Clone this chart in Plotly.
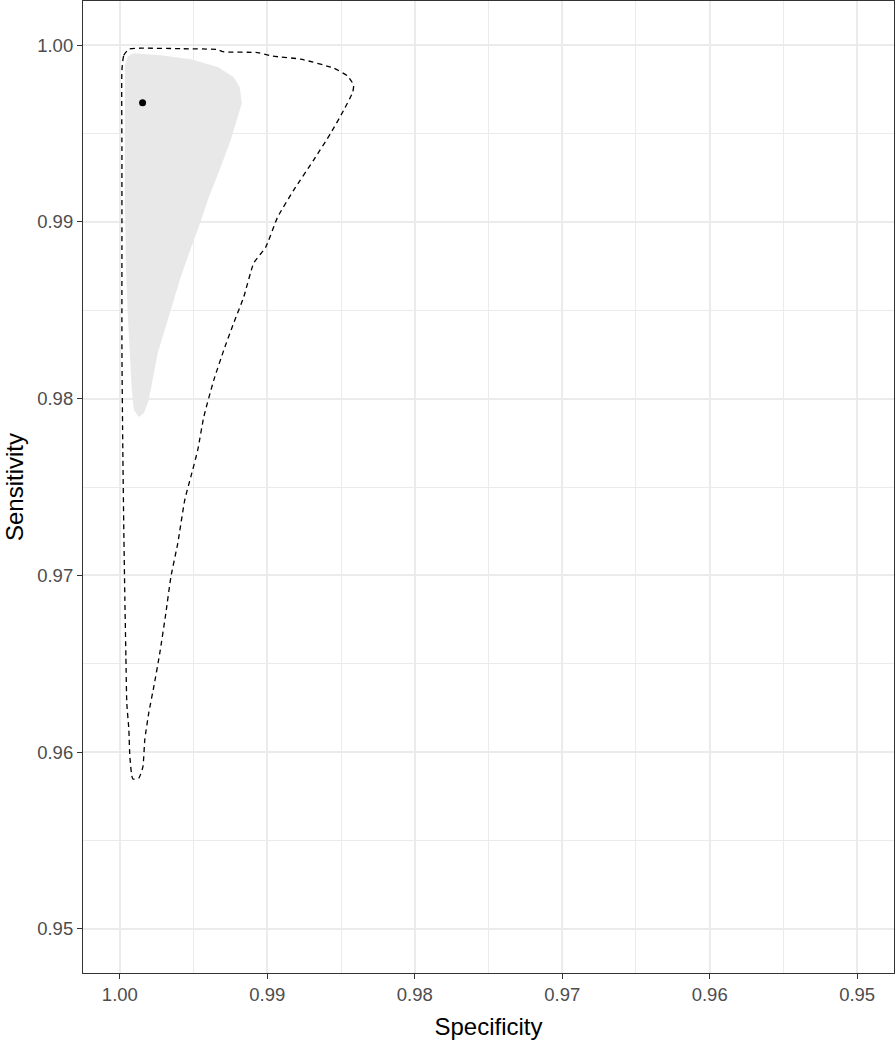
import plotly.graph_objects as go

# summary point (specificity, sensitivity)
point_spec = [0.99846]
point_sens = [0.99674]

# dashed outer region
outer_spec = [0.99986, 0.99973, 0.99939, 0.99858, 0.99580, 0.99336, 0.99302, 0.99065,
              0.98963, 0.98774, 0.98550, 0.98455, 0.98415, 0.98421, 0.98482, 0.98570,
              0.98686, 0.98821, 0.98930, 0.99011, 0.99092, 0.99160, 0.99228, 0.99295,
              0.99363, 0.99431, 0.99472, 0.99519, 0.99560, 0.99607, 0.99654, 0.99688,
              0.99729, 0.99770, 0.99804, 0.99831, 0.99844, 0.99871, 0.99912, 0.99932,
              0.99939, 0.99953, 0.99959, 0.99966, 0.99973, 0.99980, 0.99986, 0.99986,
              0.99986, 0.99986]
outer_sens = [0.99859, 0.99943, 0.99977, 0.99983, 0.99980, 0.99975, 0.99963, 0.99958,
              0.99938, 0.99921, 0.99870, 0.99825, 0.99774, 0.99734, 0.99632, 0.99502,
              0.99350, 0.99180, 0.99027, 0.98857, 0.98767, 0.98575, 0.98428, 0.98275,
              0.98105, 0.97896, 0.97709, 0.97557, 0.97426, 0.97183, 0.96991, 0.96787,
              0.96561, 0.96369, 0.96222, 0.96069, 0.95916, 0.95854, 0.95848, 0.95973,
              0.96126, 0.96278, 0.96538, 0.96861, 0.97240, 0.97709, 0.98275, 0.98840,
              0.99406, 0.99859]

# grey inner region
inner_spec = [0.99966, 0.99946, 0.99905, 0.99722, 0.99519, 0.99336, 0.99228, 0.99187,
              0.99173, 0.99201, 0.99248, 0.99316, 0.99397, 0.99472, 0.99499, 0.99587,
              0.99675, 0.99743, 0.99804, 0.99837, 0.99871, 0.99905, 0.99919, 0.99932,
              0.99946, 0.99959, 0.99966, 0.99966, 0.99966]
inner_sens = [0.99887, 0.99938, 0.99955, 0.99943, 0.99921, 0.99876, 0.99819, 0.99762,
              0.99672, 0.99593, 0.99463, 0.99310, 0.99140, 0.98954, 0.98897, 0.98688,
              0.98445, 0.98258, 0.97992, 0.97919, 0.97896, 0.97936, 0.98049, 0.98218,
              0.98462, 0.98744, 0.99123, 0.99576, 0.99887]

ticks = [0.95, 0.96, 0.97, 0.98, 0.99, 1.00]
tick_text = ["0.95", "0.96", "0.97", "0.98", "0.99", "1.00"]

fig = go.Figure()

fig.add_trace(go.Scatter(
    x=inner_spec, y=inner_sens, mode='lines', fill='toself',
    fillcolor='rgb(232,232,232)', line=dict(width=0), hoverinfo='skip'
))

fig.add_trace(go.Scatter(
    x=outer_spec, y=outer_sens, mode='lines',
    line=dict(color='black', width=1.3, dash='5px,4px', shape='spline', smoothing=0.5)
))

fig.add_trace(go.Scatter(
    x=point_spec, y=point_sens, mode='markers',
    marker=dict(color='black', size=7)
))

axis_style = dict(
    tickvals=ticks, ticktext=tick_text,
    showgrid=True, gridcolor='#EBEBEB', gridwidth=1.5,
    minor=dict(dtick=0.005, tick0=0.95, showgrid=True, gridcolor='#EBEBEB', gridwidth=1, ticks=''),
    showline=True, mirror=True, linecolor='#333333', linewidth=1.2,
    ticks='outside', ticklen=5, tickcolor='#333333', tickwidth=1,
    tickfont=dict(family='Liberation Sans, Arial', size=18.5, color='#4D4D4D'),
    title_font=dict(family='Liberation Sans, Arial', size=24, color='black'),
    zeroline=False,
)

fig.update_xaxes(range=[1.0025, 0.9475], title_text='Specificity', title_standoff=13, **axis_style)
fig.update_yaxes(range=[0.9475, 1.0025], **axis_style)

# y title as an annotation so it can sit closer to the window edge
fig.add_annotation(
    text='Sensitivity', textangle=-90, showarrow=False,
    xref='paper', yref='paper', x=0, y=0.5, xanchor='center', yanchor='middle',
    xshift=-69, font=dict(family='Liberation Sans, Arial', size=24, color='black')
)

fig.update_layout(
    width=896, height=1043,
    margin=dict(l=83, r=2, t=1, b=70, autoexpand=False),
    plot_bgcolor='white', paper_bgcolor='white',
    showlegend=False,
)

# drop the default 8px page margin so the figure sits at the window's corner
fig.write_html("out.html", config={'displayModeBar': False},
               post_script="document.body.style.margin='0';")
